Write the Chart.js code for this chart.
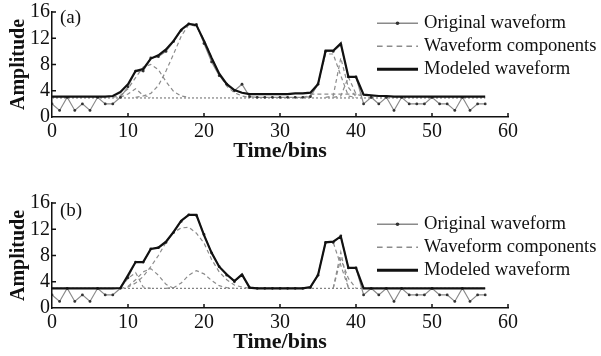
<!DOCTYPE html>
<html>
<head>
<meta charset="utf-8">
<script src="https://cdn.jsdelivr.net/npm/chart.js@4.4.1/dist/chart.umd.min.js"></script>
<style>
html, body { margin: 0; padding: 0; background: #fff; }
#wrap { position: relative; width: 601px; height: 356px; overflow: hidden; }
canvas { position: absolute; left: 0; width: 601px; height: 165px; }
#chartA { top: 0; }
#chartB { top: 191px; }
</style>
</head>
<body>
<div id="wrap">
  <canvas id="chartA" width="601" height="165"></canvas>
  <canvas id="chartB" width="601" height="165"></canvas>
</div>
<script>
// time bins (x)
var bins = [0,1,2,3,4,5,6,7,8,9,10,11,12,13,14,15,16,17,18,19,20,21,22,23,24,25,26,27,28,29,
            30,31,32,33,34,35,36,37,38,39,40,41,42,43,44,45,46,47,48,49,50,51,52,53,54,55,56,57];
var xTicks = [0, 10, 20, 30, 40, 50, 60];
var yTicks = [0, 4, 8, 12, 16];

// original waveform, same in both panels
var original = [2,1,3,1,2,1,3,2,2,3,4.6,7,7,9,9.2,10,11.5,13.2,14.2,14.1,11.2,8.4,6.3,5,4,5,3.1,3,3,3,
                3,3,3,3,3.1,5,10,10,11,6.1,6.1,2,3,2,3,1,3,2,2,2,3,2,2,1,3,1,2,2];

// (a) modeled waveform
var modeledA = [3.1,3.1,3.1,3.1,3.1,3.1,3.1,3.1,3.2,3.8,5.0,7.0,7.3,8.9,9.4,10.3,11.6,13.3,14.2,14.0,11.6,9.0,6.6,5.0,4.1,3.7,3.5,3.5,3.5,3.5,
                3.5,3.5,3.6,3.6,3.7,5.0,10.1,10.1,11.2,6.1,6.1,3.4,3.3,3.2,3.2,3.1,3.1,3.1,3.1,3.1,3.1,3.1,3.1,3.1,3.1,3.1,3.1,3.1];
// (b) modeled waveform
var modeledB = [3,3,3,3,3,3,3,3,3,3.05,5.0,7,7,9,9.2,10.1,11.6,13.3,14.2,14.2,11.1,8.4,6.3,5.1,4.1,5.1,3.1,3,3,3,
                3,3,3,3,3.2,5.0,10,10.1,10.9,6.1,6.1,3,3,3,3,3,3,3,3,3,3,3,3,3,3,3,3,3];

// baseline component level
var baseA = 2.9;
var baseB = 3.0;

// (a) waveform components: [bin, amplitude]
var compA1 = [[9,3.0],[10,3.5],[11,4.3],[12,3.3],[13,3.0]];
var compA2 = [[8,3.0],[9,3.3],[10,4.3],[11,6.0],[12,7.6],[13,8.0],[14,7.2],[15,5.4],[16,3.9],[17,3.2],[18,3.0]];
var compA3 = [[11,3.0],[12,3.2],[13,3.6],[14,4.8],[15,7.0],[16,9.6],[17,12.3],[18,14.1],[19,13.8],[20,11.8],[21,9.1],[22,6.5],[23,4.7],[24,3.7],[25,3.2],[26,3.0]];
var compA4 = [[33,3.0],[34,3.3],[35,5.0],[36,9.6],[37,9.6],[38,6.3],[39,3.2],[40,3.0]];
var compA5 = [[36,3.0],[37,3.2],[38,9.0],[39,4.5],[40,3.1]];
var compA6 = [[37,3.0],[38,3.2],[39,6.1],[40,3.5],[41,3.1]];
var compA7 = [[34,3.5],[41,3.5]];

// (b) waveform components
var compB1 = [[9,3.2],[10,4.5],[11,5.4],[12,3.2],[13,3.0]];
var compB2 = [[10,3.3],[11,4.3],[12,5.5],[13,6.0],[14,5.0],[15,3.6],[16,3.0]];
var compB3 = [[9,3.0],[10,3.2],[11,3.8],[12,4.8],[13,6.3],[14,8.0],[15,10.0],[16,11.5],[17,12.2],[18,12.3],[19,11.4],[20,9.9],[21,7.4],[22,5.5],[23,4.3],[24,3.5],[25,3.2],[26,3.0]];
var compB4 = [[15,3.0],[16,3.1],[17,3.8],[18,5.0],[19,5.7],[20,5.2],[21,4.2],[22,3.4],[23,3.1],[24,3.0]];
var compB5 = [[34,3.2],[35,5.0],[36,10.0],[37,10.0],[38,6.5],[39,3.1]];
var compB6 = [[37,3.0],[38,8.5],[39,3.0]];
var compB7 = [[37,3.0],[38,7.5],[39,4.5],[40,3.0]];

Chart.defaults.font.family = '"Liberation Serif", "Times New Roman", serif';
Chart.defaults.color = '#111';

function toPoints(xs, ys) {
    return ys.map(function(v, i) { return { x: xs[i], y: v }; });
}

function pairPoints(pairs) {
    return pairs.map(function(p) { return { x: p[0], y: p[1] }; });
}

function makeDatasets(modeled, base, comps) {
    var sets = [];
    sets.push({
        label: 'Modeled waveform', data: toPoints(bins, modeled),
        borderColor: '#111', borderWidth: 2.2, pointRadius: 0, order: 0, legendIndex: 2
    });
    sets.push({
        label: 'Original waveform', data: toPoints(bins, original),
        borderColor: '#8a8a8a', borderWidth: 1.2, pointRadius: 1.4,
        pointBackgroundColor: '#333', pointBorderWidth: 0, order: 1, legendIndex: 0
    });
    sets.push({
        label: 'Waveform components', data: [{ x: bins[0], y: base }, { x: bins[bins.length - 1], y: base }],
        borderColor: '#666', borderWidth: 1, borderDash: [2, 2], pointRadius: 0, order: 3
    });
    comps.forEach(function(c, i) {
        sets.push({
            label: 'Waveform components', data: pairPoints(c),
            borderColor: '#8c8c8c', borderWidth: 1.2, borderDash: [4, 3], pointRadius: 0, order: 2,
            legendIndex: i === 0 ? 1 : undefined
        });
    });
    return sets;
}

// inward ticks, panel letter and legend
var extrasPlugin = {
    id: 'extras',
    afterDraw: function(chart, args, opts) {
        var ctx = chart.ctx;
        var xs = chart.scales.x, ys = chart.scales.y;
        ctx.save();
        ctx.strokeStyle = '#111';
        ctx.lineWidth = 1.5;
        ctx.beginPath();
        xs.ticks.forEach(function(t) {
            if (t.value === 0) return;
            var px = xs.getPixelForValue(t.value);
            ctx.moveTo(px, ys.bottom);
            ctx.lineTo(px, ys.bottom - 4);
        });
        ys.ticks.forEach(function(t) {
            if (t.value === 0) return;
            var py = ys.getPixelForValue(t.value);
            ctx.moveTo(xs.left, py);
            ctx.lineTo(xs.left + 4, py);
        });
        ctx.stroke();

        ctx.fillStyle = '#111';
        ctx.textBaseline = 'middle';
        ctx.font = '19px "Liberation Serif"';
        ctx.fillText(opts.panel, opts.panelX, opts.panelY);

        var entries = chart.data.datasets.filter(function(d) { return d.legendIndex !== undefined; })
            .sort(function(a, b) { return a.legendIndex - b.legendIndex; });
        ctx.font = '18.6px "Liberation Serif"';
        entries.forEach(function(d, i) {
            var y = opts.legendY + i * opts.legendStep;
            ctx.strokeStyle = d.borderColor;
            ctx.lineWidth = d.borderWidth * 1.35;
            ctx.setLineDash(d.borderDash ? d.borderDash.map(function(v) { return v * 1.4; }) : []);
            ctx.beginPath();
            ctx.moveTo(opts.legendX, y);
            ctx.lineTo(opts.legendX + 41, y);
            ctx.stroke();
            ctx.setLineDash([]);
            if (d.pointRadius) {
                ctx.fillStyle = d.pointBackgroundColor;
                ctx.beginPath();
                ctx.arc(opts.legendX + 20.5, y, 1.8, 0, Math.PI * 2);
                ctx.fill();
            }
            ctx.fillStyle = '#111';
            ctx.fillText(d.label, opts.legendX + 47, y);
        });
        ctx.restore();
    }
};

function makeChart(id, datasets, extras) {
    return new Chart(document.getElementById(id).getContext('2d'), {
        type: 'line',
        data: { datasets: datasets },
        plugins: [extrasPlugin],
        options: {
            responsive: false,
            animation: false,
            layout: { padding: { top: 12, right: 93, left: 0, bottom: 0 } },
            plugins: {
                legend: { display: false },
                tooltip: { enabled: false },
                extras: extras
            },
            elements: { line: { tension: 0 } },
            scales: {
                x: {
                    type: 'linear', min: 0, max: 60,
                    afterBuildTicks: function(s) { s.ticks = xTicks.map(function(v) { return { value: v }; }); },
                    afterFit: function(s) { s.height = 48; },
                    ticks: { padding: 3, color: '#111', font: { size: 20 }, autoSkip: false, maxRotation: 0 },
                    grid: { display: false, drawTicks: false },
                    border: { display: true, color: '#111', width: 1.5 },
                    title: { display: true, text: 'Time/bins', color: '#111',
                             font: { size: 22, weight: 'bold' }, padding: { top: 0, bottom: 0 } }
                },
                y: {
                    type: 'linear', min: 0, max: 16,
                    afterBuildTicks: function(s) { s.ticks = yTicks.map(function(v) { return { value: v }; }); },
                    afterFit: function(s) { s.width = 52; },
                    ticks: { padding: 2, color: '#111', font: { size: 20, lineHeight: 1 }, autoSkip: false },
                    grid: { display: false, drawTicks: false },
                    border: { display: true, color: '#111', width: 1.5 },
                    title: { display: true, text: 'Amplitude', color: '#111',
                             font: { size: 20, weight: 'bold' }, padding: { top: 7, bottom: 0 } }
                }
            }
        }
    });
}

makeChart('chartA', makeDatasets(modeledA, baseA, [compA1, compA2, compA3, compA4, compA5, compA6, compA7]),
    { panel: '(a)', panelX: 60, panelY: 18, legendX: 377, legendY: 23.3, legendStep: 23 });
makeChart('chartB', makeDatasets(modeledB, baseB, [compB1, compB2, compB3, compB4, compB5, compB6, compB7]),
    { panel: '(b)', panelX: 60, panelY: 20.5, legendX: 377, legendY: 33.3, legendStep: 23 });
</script>
</body>
</html>
